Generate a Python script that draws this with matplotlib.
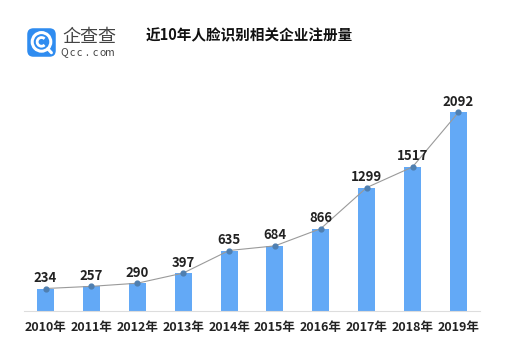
import numpy as np
import matplotlib.pyplot as plt
from matplotlib.patches import FancyBboxPatch, Circle, Arc

plt.rcParams['font.family'] = ['Noto Sans CJK SC', 'DejaVu Sans']

years = ["2010年", "2011年", "2012年", "2013年", "2014年",
         "2015年", "2016年", "2017年", "2018年", "2019年"]
counts = [234, 257, 290, 397, 635, 684, 866, 1299, 1517, 2092]

W, H = 531, 340
fig = plt.figure(figsize=(W / 100, H / 100), dpi=100)
fig.patch.set_facecolor("white")

# main chart area, placed in pixel terms
ax = fig.add_axes([24 / W, (H - 310.7) / H, 456 / W, 218 / H])
x = np.arange(len(years))
ax.bar(x, counts, width=0.37, color="#63a9f6", zorder=2)
ax.plot(x, counts, color="#9a9a9a", lw=0.8, zorder=3)
ax.scatter(x, counts, s=12, color="#4f7fb0", zorder=4)
for xi, v in zip(x, counts):
    ax.annotate(str(v), (xi, v), xytext=(0, 2.5), textcoords="offset points",
                ha="center", va="bottom", fontsize=9.5, fontweight="bold",
                color="#222222")

ax.set_xlim(-0.47, 9.47)
ax.set_ylim(0, 2300)
ax.set_xticks(x)
ax.set_xticklabels(years, fontsize=9, fontweight="bold", color="#222222")
ax.tick_params(axis="x", length=0, pad=7.5)
ax.set_yticks([])
for s in ["top", "left", "right"]:
    ax.spines[s].set_visible(False)
ax.spines["bottom"].set_color("#dddddd")
ax.spines["bottom"].set_linewidth(0.8)

fig.text(249 / W, 1 - 35 / H, "近10年人脸识别相关企业注册量", ha="center",
         va="center", fontsize=10.5, fontweight="bold", color="#111111")

# logo: blue rounded square with a white ring
lax = fig.add_axes([26 / W, 1 - 58 / H, 31 / W, 31 / H])
lax.set_xlim(0, 1)
lax.set_ylim(0, 1)
lax.axis("off")
lax.add_patch(FancyBboxPatch((0.04, 0.04), 0.92, 0.92,
                             boxstyle="round,pad=0,rounding_size=0.2",
                             fc="#2f8cf0", ec="none"))
lax.add_patch(Circle((0.5, 0.52), 0.3, fc="none", ec="white", lw=2.2))
lax.add_patch(Arc((0.5, 0.52), 0.28, 0.28, theta1=45, theta2=315,
                  ec="white", lw=2.0))
lax.plot([0.7, 0.82], [0.3, 0.17], color="white", lw=2.2,
         solid_capstyle="round")

fig.text(62 / W, 1 - 37 / H, "企查查", ha="left", va="center",
         fontsize=13, color="#444444")
# spaced-out domain text under the brand name
for i, ch in enumerate("Qcc.com"):
    fig.text((64 + i * 7.7) / W, 1 - 52.5 / H, ch, ha="center", va="center",
             fontsize=7.5, color="#444444")

fig.savefig("out.png", dpi=100)
